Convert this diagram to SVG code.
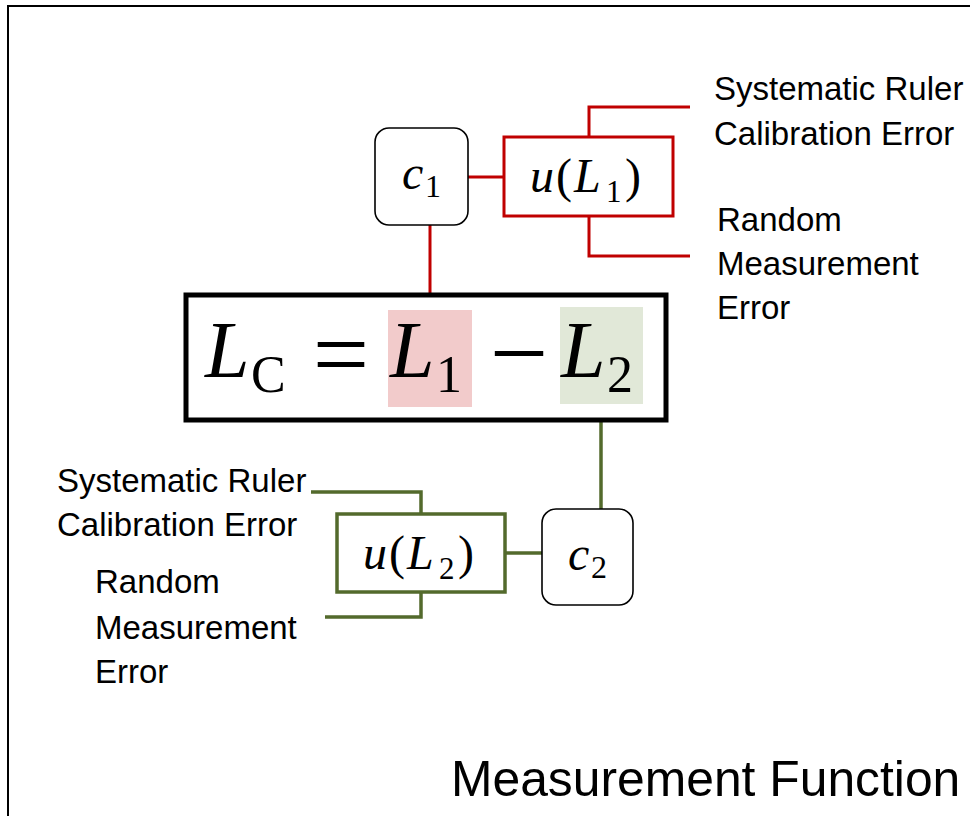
<svg xmlns="http://www.w3.org/2000/svg" width="970" height="816" viewBox="0 0 970 816">
<style>
.lbl{font-family:"Liberation Sans","Open Sans",sans-serif;font-size:33px;fill:#000}
.title{font-family:"Liberation Sans","Open Sans",sans-serif;font-size:49.8px;fill:#000}
.mi{font-family:"Liberation Serif","DejaVu Serif",serif;font-style:italic;fill:#000}
.mr{font-family:"Liberation Serif","DejaVu Serif",serif;fill:#000}
.cbox{fill:#fff;stroke:#000;stroke-width:1.6}
.red{fill:none;stroke:#C00000;stroke-width:3}
.grn{fill:none;stroke:#536A2C;stroke-width:3.5}
</style>
<rect x="0" y="0" width="970" height="816" fill="#fff"/>
<path d="M8,816 V6 H970" fill="none" stroke="#000" stroke-width="2"/>

<g id="connectors">
  <line class="red" x1="430" y1="225" x2="430" y2="310"/>
  <line class="red" x1="468" y1="177" x2="504" y2="177"/>
  <polyline class="red" points="589,137 589,107 690,107"/>
  <polyline class="red" points="589,216 589,256 690,256"/>
  <line class="grn" x1="601" y1="404" x2="601" y2="509"/>
  <line class="grn" x1="505" y1="553" x2="542" y2="553"/>
  <polyline class="grn" points="311,492 421,492 421,514"/>
  <polyline class="grn" points="325,617 421,617 421,592"/>
</g>

<g id="equation">
  <rect x="186" y="295" width="480" height="125" fill="#fff" stroke="#000" stroke-width="5"/>
  <rect x="388" y="310" width="84" height="97" fill="#F2CBCB"/>
  <rect x="560" y="307" width="83" height="97" fill="#E1E8D8"/>
  <text class="mi" x="205" y="377" font-size="80">L</text>
  <text class="mr" x="251" y="392" font-size="52">C</text>
  <text class="mr" x="341" y="388" font-size="100" text-anchor="middle">=</text>
  <text class="mi" x="390" y="377" font-size="80">L</text>
  <text class="mr" x="436" y="392" font-size="52">1</text>
  <text class="mr" x="519" y="388" font-size="104" text-anchor="middle">−</text>
  <text class="mi" x="561" y="377" font-size="80">L</text>
  <text class="mr" x="607" y="392" font-size="52">2</text>
</g>

<g id="c1">
  <rect class="cbox" x="375" y="128" width="93" height="97" rx="14"/>
  <text class="mi" x="402" y="189" font-size="48">c</text>
  <text class="mr" x="425" y="197" font-size="32">1</text>
</g>

<g id="uL1">
  <rect x="504" y="137" width="169" height="79" fill="#fff" stroke="#C00000" stroke-width="3"/>
  <text class="mi" x="530" y="192" font-size="48">u</text>
  <text class="mr" x="556" y="192" font-size="48">(</text>
  <text class="mi" x="574" y="192" font-size="48">L</text>
  <text class="mr" x="606" y="202" font-size="31">1</text>
  <text class="mr" x="625" y="192" font-size="48">)</text>
</g>

<g id="c2">
  <rect class="cbox" x="542" y="509" width="91" height="96" rx="14"/>
  <text class="mi" x="568" y="570" font-size="48">c</text>
  <text class="mr" x="591" y="578" font-size="32">2</text>
</g>

<g id="uL2">
  <rect x="337" y="514" width="168" height="78" fill="#fff" stroke="#536A2C" stroke-width="3.5"/>
  <text class="mi" x="363" y="569" font-size="48">u</text>
  <text class="mr" x="389" y="569" font-size="48">(</text>
  <text class="mi" x="407" y="569" font-size="48">L</text>
  <text class="mr" x="439" y="579" font-size="31">2</text>
  <text class="mr" x="458" y="569" font-size="48">)</text>
</g>

<g id="labels">
  <text class="lbl" x="714" y="100">Systematic Ruler</text>
  <text class="lbl" x="714" y="145">Calibration Error</text>
  <text class="lbl" x="717" y="231">Random</text>
  <text class="lbl" x="717" y="275">Measurement</text>
  <text class="lbl" x="717" y="319">Error</text>
  <text class="lbl" x="57" y="492">Systematic Ruler</text>
  <text class="lbl" x="57" y="536">Calibration Error</text>
  <text class="lbl" x="95" y="593">Random</text>
  <text class="lbl" x="95" y="639">Measurement</text>
  <text class="lbl" x="95" y="683">Error</text>
  <text class="title" x="451" y="796">Measurement Function</text>
</g>
</svg>
